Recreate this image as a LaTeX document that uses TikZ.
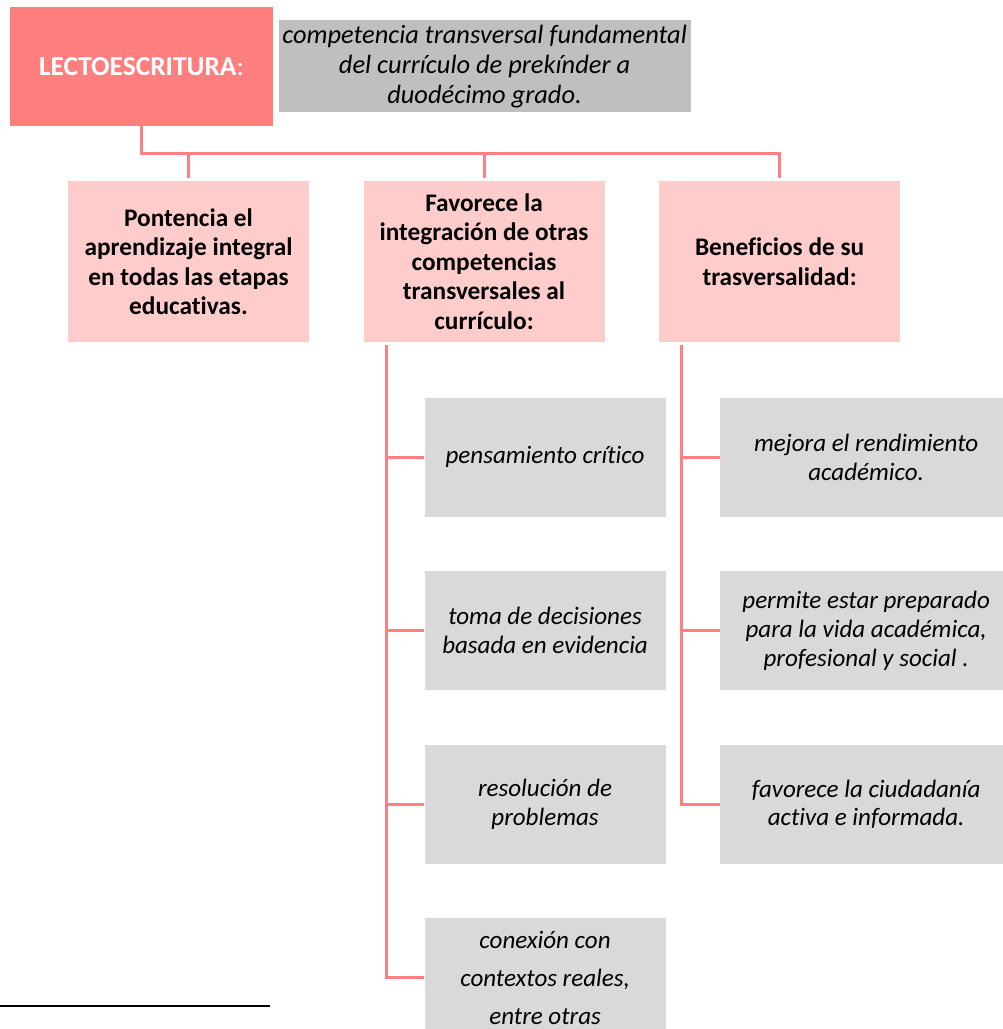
\documentclass[tikz,border=0pt]{standalone}
\usepackage{fontspec}
\setmainfont{Carlito}[Ligatures=NoCommon]
\usetikzlibrary{positioning}
\definecolor{salmon}{HTML}{FF7F7F}
\definecolor{rosebox}{HTML}{FFCCCC}
\definecolor{greydef}{HTML}{BFBFBF}
\definecolor{greyitem}{HTML}{D9D9D9}
\definecolor{linkred}{HTML}{FF8080}
\tikzset{
box/.style={inner sep=0pt, align=center}, % common look of every box
head/.style={box, fill=salmon, text=white, font=\fontsize{19.5}{23}\selectfont\bfseries, minimum width=6.575cm, minimum height=2.975cm}, % the title box
defn/.style={box, fill=greydef, font=\fontsize{18.8}{21.5}\selectfont\itshape, minimum width=10.3cm, minimum height=2.3cm}, % the definition beside it
branch/.style={box, fill=rosebox, font=\fontsize{18}{21}\selectfont\bfseries, minimum width=6.025cm, minimum height=4.025cm}, % the three main ideas
item/.style={box, fill=greyitem, font=\fontsize{17.8}{20.5}\selectfont\itshape, minimum width=6.025cm, minimum height=2.975cm}, % the grey leaves
wideitem/.style={item, minimum width=7.3cm}, % leaves of the right column
link/.style={draw=linkred, line width=2.2pt}, % the salmon connectors
node distance=1.35cm, % gap between neighbour boxes
}
\begin{document}
\begin{tikzpicture}
\useasboundingbox (0,0) rectangle (25.05,-25.725);
\node[head] (lecto) at (3.5375,-1.6625) {LECTOESCRITURA\mdseries:};
\node[defn, right=0.125cm of lecto] (defn) {competencia transversal fundamental\\del currículo de prekínder a\\duodécimo grado.};

\node[branch] (p1) at (4.7125,-6.5375) {Pontencia el\\aprendizaje integral\\en todas las etapas\\educativas.};
\node[branch, right=of p1] (p2) {Favorece la\\integración de otras\\competencias\\transversales al\\currículo:};
\node[branch, right=of p2] (p3) {Beneficios de su\\trasversalidad:};

\node[item, anchor=north west] (g1) at ([xshift=1.525cm,yshift=-1.375cm]p2.south west) {pensamiento crítico};
\node[item, below=of g1] (g2) {toma de decisiones\\basada en evidencia};
\node[item, below=of g2] (g3) {resolución de\\problemas};
\node[item, below=of g3, font=\fontsize{17.8}{27}\selectfont\itshape] (g4) {conexión con\\contextos reales,\\entre otras};

\node[wideitem, anchor=north west] (r1) at ([xshift=1.525cm,yshift=-1.375cm]p3.south west) {mejora el rendimiento\\académico.};
\node[wideitem, below=of r1] (r2) {permite estar preparado\\para la vida académica,\\profesional y social .};
\node[wideitem, below=of r2] (r3) {favorece la ciudadanía\\activa e informada.};

% tree from the title to the three ideas
\coordinate (bus) at ([yshift=-0.675cm]lecto.south);
\draw[link] (lecto.south) -- (bus) -| ([yshift=0.075cm]p3.north);
\draw[link] (bus -| p1.north) -- ([yshift=0.075cm]p1.north);
\draw[link] (bus -| p2.north) -- ([yshift=0.075cm]p2.north);

% the two spines
\coordinate (s2) at ([xshift=0.575cm,yshift=-0.075cm]p2.south west);
\coordinate (s3) at ([xshift=0.575cm,yshift=-0.075cm]p3.south west);
\draw[link] (s2) |- (g4.west);
\draw[link] (s3) |- (r3.west);
\foreach \g in {g1,g2,g3}
  \draw[link] (\g.west -| s2) -- (\g.west);
\foreach \r in {r1,r2}
  \draw[link] (\r.west -| s3) -- (\r.west);

% footnote rule
\draw[line width=0.06cm] (0,-25.15) -- (6.75,-25.15);
\end{tikzpicture}
\end{document}
